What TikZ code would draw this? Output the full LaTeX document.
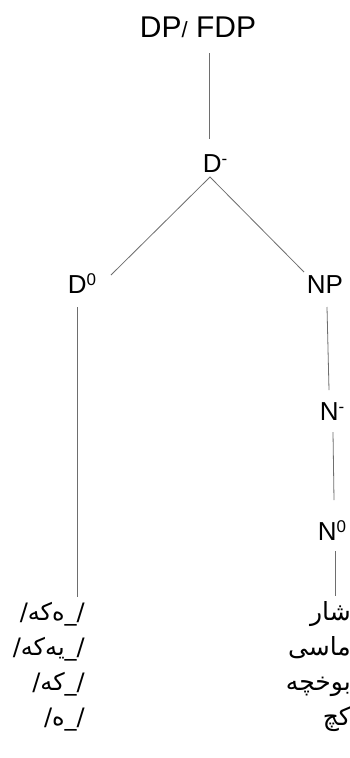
\documentclass[tikz,border=0pt]{standalone}
\usepackage{fontspec}
\setmainfont{Liberation Sans}
\newfontfamily\arabicfont[Script=Arabic]{DejaVu Sans}
\TeXXeTstate=1
\usetikzlibrary{calc}
\definecolor{linegray}{HTML}{6E6E6E}
\newcommand\mysup[1]{\raisebox{8pt}{\fontsize{17}{17}\selectfont #1}}
\tikzset{
  lbl/.style={inner sep=0pt, anchor=base, font=\fontsize{26}{26}\selectfont},
  toplbl/.style={inner sep=0pt, anchor=base, font=\fontsize{30}{30}\selectfont},
  arlbl/.style={inner sep=0pt, anchor=base east, font=\arabicfont\fontsize{24}{24}\selectfont},
  wordlbl/.style={arlbl, font=\arabicfont\fontsize{25}{25}\selectfont},
  branch/.style={draw=linegray, line width=0.8pt}
}
\begin{document}
\begin{tikzpicture}[x=1pt,y=-1pt]
\fill[white] (0,0) rectangle (350,758);
\useasboundingbox (0,0) rectangle (350,758);
% tree labels
\node[toplbl] (dp) at (198,37) {DP{\fontsize{22}{22}\selectfont /} FDP};
\node[lbl] (dm) at (215,172) {D\mysup{-}};
\node[lbl] (d0) at (82,293) {D\mysup{0}};
\node[lbl] (np) at (325,293) {NP};
\node[lbl] (nm) at (332,420) {N\mysup{-}};
\node[lbl] (n0) at (332,540) {N\mysup{0}};
% suffixes (left) and words (right)
\node[arlbl] (s1) at (85,620) {\beginR /\_ەکە/\endR};
\node[arlbl] (s2) at (85,655) {\beginR /\_یەکە/\endR};
\node[arlbl] (s3) at (85,690) {\beginR /\_کە/\endR};
\node[arlbl] (s4) at (85,725) {\beginR /\_ە/\endR};
\node[wordlbl] (w1) at (351,620) {\beginR شار\endR};
\node[wordlbl] (w2) at (351,655) {\beginR ماسی\endR};
\node[wordlbl] (w3) at (351,690) {\beginR بوخچە\endR};
\node[wordlbl] (w4) at (351,725) {\beginR کچ\endR};
% branches
\draw[branch] ($(dp.base)+(11,16)$) -- ($(dm.base)+(-6,-33)$);
\draw[branch] ($(d0.base)+(29,-18)$) -- ($(dm.base)+(-5,5)$) -- ($(np.base)+(-21,-21)$);
\draw[branch] ($(d0.base)+(-5,14)$) -- ($(s1.base east)+(-8,-23)$);
\draw[branch] ($(np.base)+(2,14)$) -- ($(nm.base)+(-3,-30)$);
\draw[branch] ($(nm.base)+(1,12)$) -- ($(n0.base)+(2,-40)$);
\draw[branch] ($(n0.base)+(3,11)$) -- ($(w1.base east)+(-16,-24)$);
\end{tikzpicture}
\end{document}
